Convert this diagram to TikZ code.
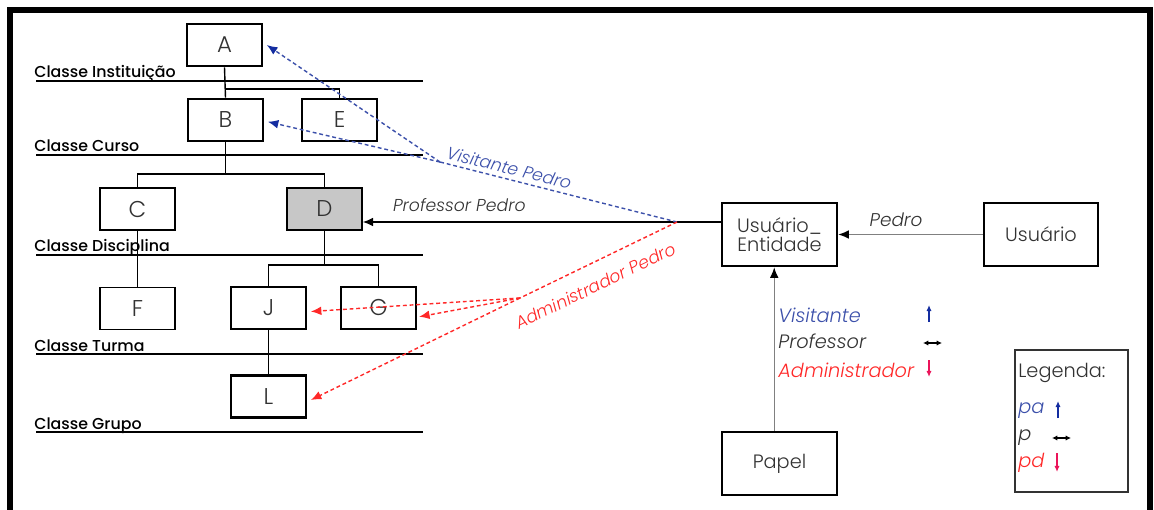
\documentclass[tikz,border=0pt]{standalone}
\usepackage{fontspec}
\setmainfont{Poppins Light}[ItalicFont={Poppins Light Italic},BoldFont={Poppins Medium}]
\usetikzlibrary{arrows.meta}

\definecolor{visblue}{RGB}{60,80,170}
\definecolor{tipblue}{RGB}{20,45,160}
\definecolor{admred}{RGB}{255,40,40}
\definecolor{tippink}{RGB}{235,20,90}
\definecolor{txtgray}{RGB}{50,50,50}

\newcommand{\letterfont}{\fontsize{13}{15}\selectfont}
\newcommand{\classfont}{\bfseries\fontsize{9}{10}\selectfont}
\newcommand{\labfont}{\fontsize{11}{13}\selectfont}
\newcommand{\linkfont}{\itshape\fontsize{9.8}{12}\selectfont}

\begin{document}
\begin{tikzpicture}[x=0.02cm, y=-0.02cm,
    bigbox/.style={draw, line width=1.5pt, minimum width=1.5cm, minimum height=0.84cm, inner sep=0pt, font=\letterfont, text=txtgray},
    smallbox/.style={draw, line width=0.7pt, minimum width=1.5cm, minimum height=0.84cm, inner sep=0pt, font=\letterfont, text=txtgray},
    classname/.style={anchor=base west, inner sep=0pt, font=\classfont},
    lab/.style={anchor=base west, inner sep=0pt, font=\labfont},
    tree/.style={line width=0.8pt},
    visline/.style={visblue, line width=0.8pt, dash pattern=on 2.2pt off 1.6pt},
    admline/.style={admred, line width=0.8pt, dash pattern=on 2.2pt off 1.6pt},
    >={Latex[length=6pt,width=5pt]}]
        \useasboundingbox (0,0) rectangle (1154,510);

        % Frame
        \draw[line width=3.4pt, miter limit=2] (10,540) -- (10,10) -- (1150,10) -- (1150,540);

        % Class levels
        \draw[line width=0.9pt] (36,81) -- (423,81);
        \draw[line width=0.9pt] (36,155) -- (423,155);
        \draw[line width=0.9pt] (36,255) -- (423,255);
        \draw[line width=0.9pt] (36,354) -- (423,354);
        \draw[line width=0.9pt] (36,432) -- (423,432);
        \node[classname] (ci) at (34,78) {Classe Instituição};
        \node[classname] (cc) at (34,152) {Classe Curso};
        \node[classname] (cd) at (34,252) {Classe Disciplina};
        \node[classname] (ct) at (34,351) {Classe Turma};
        \node[classname] (cg) at (34,429) {Classe Grupo};

        % Tree of entities
        \node[bigbox] (A) at (224.5,45) {A};
        \node[bigbox] (B) at (225.5,120) {B};
        \node[bigbox] (E) at (339.5,120) {E};
        \node[smallbox] (C) at (137.5,209) {C};
        \node[smallbox, fill=black!22] (D) at (324.5,209) {D};
        \node[smallbox] (F) at (137.5,308.5) {F};
        \node[bigbox] (J) at (268.5,308) {J};
        \node[bigbox] (G) at (378.5,308) {G};
        \node[bigbox] (L) at (268.5,396.5) {L};

        \coordinate (ae) at (224.5,89);
        \coordinate (bcd) at (225.5,174);
        \coordinate (djg) at (324.5,265);
        \draw[tree] (A.south) -- (B.north);
        \draw[tree] (ae) -| (E.north);
        \draw[tree] (B.south) -- (bcd);
        \draw[tree] (C.north) |- (bcd) -| (D.north);
        \draw[tree] (C.south) -- (F.north);
        \draw[tree] (D.south) -- (djg);
        \draw[tree] (J.north) |- (djg) -| (G.north);
        \draw[tree] (J.south) -- (L.north);

        % Right side
        \node[bigbox, minimum width=2.3cm, minimum height=1.26cm, align=center, font=\labfont] (UE) at (779.5,234.5) {Usuário\_\\[-2pt]Entidade};
        \node[bigbox, minimum width=2.28cm, minimum height=1.26cm, font=\labfont] (U) at (1041,234.5) {Usuário};
        \node[bigbox, minimum width=2.3cm, minimum height=1.26cm, font=\labfont] (P) at (779.5,463.5) {Papel};

        \draw[black!50, line width=0.8pt, -{Latex[length=6pt,width=5pt,black]}] (U.west) -- (UE.east)
            node[pos=0.6, above=1pt, font=\linkfont\fontsize{10.5}{12}\selectfont, text=txtgray] (pedro) {Pedro};
        \draw[black!50, line width=0.8pt, -{Latex[length=6pt,width=5pt,black]}] ([xshift=-3pt]P.north) -- ([xshift=-3pt]UE.south);

        \node[lab, text=visblue, font=\labfont\itshape] (vis) at (778,322) {Visitante};
        \node[lab, text=txtgray, font=\labfont\itshape] (prof) at (778,348) {Professor};
        \node[lab, text=admred, font=\labfont\itshape] (adm) at (778,377) {Administrador};
        \draw[tipblue, line width=0.8pt, -{Latex[length=3.5pt,width=3pt]}] (929,322) -- (929,305);
        \draw[black, line width=0.8pt, {Latex[length=3pt,width=3pt]}-{Latex[length=3pt,width=3pt]}] (923,343) -- (942,343);
        \draw[tippink, line width=0.8pt, -{Latex[length=3.5pt,width=3pt]}] (929,360) -- (929,377);

        % Access of Pedro
        \coordinate (apex) at (677,222);
        \coordinate (vj) at (440,162);
        \coordinate (aj) at (520,298);
        \draw[line width=0.9pt, ->] (UE.west |- apex) -- (D.east |- apex)
            node[pos=0.73, above=2pt, font=\linkfont, text=txtgray] (profpedro) {Professor Pedro};
        \draw[visline] (apex) -- (vj)
            node[pos=0.72, sloped, above=-1pt, font=\linkfont, text=visblue] (vispedro) {Visitante Pedro};
        \draw[visline, -{Latex[length=6pt,width=5pt,tipblue]}] (vj) -- ([xshift=2pt]A.east);
        \draw[visline, -{Latex[length=6pt,width=5pt,tipblue]}] (vj) -- ([xshift=2pt,yshift=-1pt]B.east);
        \draw[admline] (apex) -- (aj)
            node[pos=0.58, sloped, below=5pt, font=\linkfont, text=admred] (admpedro) {Administrador Pedro};
        \draw[admline, ->] (aj) -- ([xshift=2pt,yshift=-2pt]J.east);
        \draw[admline, ->] (aj) -- ([xshift=1pt,yshift=-5pt]G.east);
        \draw[admline, ->] (aj) -- ([xshift=2pt,yshift=-2pt]L.east);

        % Legend
        \draw[black!80, line width=0.7pt] (1015,350) rectangle (1128,492);
        \node[lab, text=txtgray] (leg) at (1018,377) {Legenda:};
        \node[lab, text=visblue, font=\labfont\itshape] (pa) at (1018,413) {pa};
        \node[lab, text=txtgray, font=\labfont\itshape] (p) at (1018,440) {p};
        \node[lab, text=admred, font=\labfont\itshape] (pd) at (1018,467) {pd};
        \draw[tipblue, line width=0.8pt, -{Latex[length=3.5pt,width=3pt]}] (1058,418) -- (1058,401);
        \draw[black, line width=0.8pt, {Latex[length=3pt,width=3pt]}-{Latex[length=3pt,width=3pt]}] (1052,438) -- (1071,438);
        \draw[tippink, line width=0.8pt, -{Latex[length=3.5pt,width=3pt]}] (1057,453) -- (1057,472);
\end{tikzpicture}
\end{document}
